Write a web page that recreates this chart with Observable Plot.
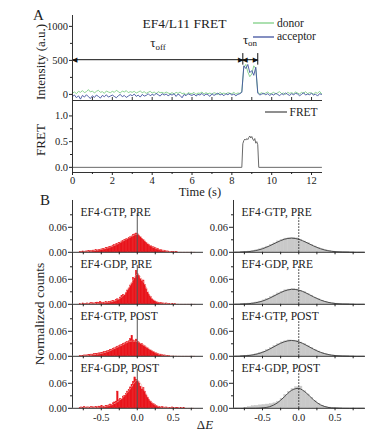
<!DOCTYPE html>
<html><head><meta charset="utf-8">
<script src="https://cdn.jsdelivr.net/npm/d3@7"></script>
<script src="https://cdn.jsdelivr.net/npm/@observablehq/plot@0.6"></script>
<style>
body{margin:0;background:#fff;}
#fig{position:relative;width:375px;height:435px;overflow:hidden;background:#fff;}
</style></head><body><div id="fig"></div>
<script>
// ---------------- DATA ----------------
// Panel A: time traces sampled every 0.1 s (0 .. 12.5 s)
const donor = [
 20,35,10,45,30,55,25,40,70,35,
 50,20,45,60,30,40,15,50,35,25,
 45,30,60,40,20,50,35,55,25,40,
 30,45,20,35,50,25,40,15,30,45,
 20,35,10,40,25,30,15,35,20,10,
 25,5,30,15,35,10,20,-5,25,15,
 10,30,0,20,15,35,5,25,10,20,
 0,25,15,-5,30,10,20,5,25,15,
 10,30,5,20,15,40,
 400,440,330,260,300,420,380,
 30,10,25,5,20,35,10,
 15,30,5,25,40,10,20,0,30,15,
 25,10,35,20,5,30,15,40,10,25,
 20,5,30,15,45,10];
const acceptor = [
 -30,-10,-50,-20,-70,-15,-40,-5,-35,-60,
 -20,-45,-10,-30,-55,-15,-35,-5,-40,-25,
 -10,-30,-50,-20,0,-35,-15,-45,-25,-5,
 -20,5,-30,-10,-40,0,-25,-15,10,-20,
 0,-15,15,-5,-25,10,-10,5,-20,0,
 -10,10,-30,5,-15,-50,0,-20,10,-5,
 -15,5,-25,0,-10,15,-20,5,-5,-30,
 10,-15,0,20,-10,5,-20,10,-5,15,
 -10,5,-20,0,10,30,
 420,380,440,320,350,280,400,
 20,-10,5,15,-5,10,-15,
 5,-10,15,0,-20,10,-5,20,0,-15,
 10,-5,15,5,-20,0,25,-10,5,-5,
 15,-10,5,-25,10,0];
const fretTime  = [0, 8.5, 8.55, 8.6, 8.65, 8.7, 8.75, 8.8, 8.85, 8.9, 8.95, 9.0, 9.05, 9.1, 9.15, 9.2, 9.25, 9.3, 9.35, 12.5];
const fretValue = [0, 0, 0.46, 0.52, 0.55, 0.53, 0.56, 0.54, 0.58, 0.61, 0.57, 0.60, 0.55, 0.52, 0.56, 0.47, 0.50, 0.44, 0, 0];
const tauOff = [0, 8.55];
const tauOn = [8.55, 9.3];
const tauLevel = 510;
const tauBar = [430, 600];
const intensityTicks = [0, 500, 1000];
const intensityMinor = [250, 750];
const fretTicks = [0, 0.5, 1.0];
const fretMinor = [0.25, 0.75];
const timeTicks = [0, 2, 4, 6, 8, 10, 12];
const timeMinor = [1, 3, 5, 7, 9, 11];

// Panel B: histogram titles
const leftTitles  = ["EF4\u00b7GTP, PRE", "EF4\u00b7GDP, PRE", "EF4\u00b7GTP, POST", "EF4\u00b7GDP, POST"];
const rightTitles = ["EF4\u00b7GTP, PRE", "EF4\u00b7GDP, PRE", "EF4\u00b7GTP, POST", "EF4\u00b7GDP, POST"];

// red histograms: bins of 0.02 starting at -0.8
const redStart = -0.8, redWidth = 0.02;
const redGtpPre = [
 0.001,0.001,0.002,0.001,0.002,0.002,0.003,0.002,0.003,0.004,
 0.004,0.005,0.004,0.006,0.006,0.007,0.008,0.008,0.010,0.010,
 0.012,0.013,0.014,0.016,0.017,0.019,0.020,0.022,0.023,0.026,
 0.027,0.029,0.031,0.032,0.034,0.036,0.038,0.041,0.043,0.045,
 0.043,0.040,0.036,0.032,0.029,0.026,0.022,0.019,0.017,0.015,
 0.013,0.012,0.010,0.009,0.008,0.006,0.005,0.004,0.004,0.003,
 0.002,0.002,0.001,0.001,0.001,0.001,0,0.001,0,0,
 0,0,0,0,0];
const redGdpPre = [
 0.001,0.000,0.002,0.001,0.001,0.002,0.001,0.002,0.003,0.002,
 0.002,0.003,0.004,0.003,0.005,0.004,0.003,0.004,0.005,0.004,
 0.006,0.005,0.007,0.008,0.007,0.010,0.012,0.011,0.016,0.020,
 0.022,0.021,0.027,0.033,0.038,0.045,0.050,0.063,0.061,0.080,
 0.072,0.068,0.060,0.055,0.057,0.046,0.036,0.028,0.022,0.017,
 0.012,0.009,0.007,0.005,0.004,0.003,0.003,0.002,0.002,0.001,
 0.002,0.001,0.001,0.000,0.001,0.000,0.001,0,0,0,
 0,0,0,0,0];
const redGtpPost = [
 0.001,0.001,0.001,0.002,0.002,0.002,0.003,0.003,0.004,0.004,
 0.005,0.005,0.006,0.007,0.007,0.008,0.009,0.010,0.011,0.012,
 0.013,0.015,0.016,0.018,0.019,0.021,0.023,0.024,0.026,0.027,
 0.029,0.031,0.033,0.034,0.036,0.041,0.049,0.038,0.036,0.040,
 0.034,0.033,0.030,0.029,0.026,0.024,0.021,0.019,0.016,0.014,
 0.012,0.010,0.008,0.007,0.005,0.004,0.004,0.003,0.002,0.002,
 0.001,0.001,0.001,0,0,0,0,0,0,0,
 0,0,0,0,0];
const redGdpPost = [
 0.001,0.002,0.001,0.003,0.001,0.002,0.002,0.001,0.003,0.002,
 0.002,0.003,0.002,0.004,0.003,0.005,0.003,0.004,0.006,0.005,
 0.007,0.009,0.008,0.012,0.014,0.016,0.040,0.019,0.022,0.021,
 0.028,0.030,0.034,0.040,0.044,0.050,0.056,0.063,0.074,0.068,
 0.064,0.060,0.052,0.045,0.049,0.040,0.031,0.025,0.020,0.016,
 0.012,0.010,0.008,0.006,0.004,0.003,0.002,0.003,0.002,0.001,
 0.002,0.001,0.001,0.001,0.002,0.001,0,0.001,0.001,0,
 0.001,0,0.001,0,0];
// faint fit curves on the red histograms
const redFitX = [-0.8,-0.7,-0.6,-0.5,-0.4,-0.3,-0.2,-0.1,0,0.1,0.2,0.3,0.4,0.5,0.6,0.7,0.8];
const redFitGtpPre  = [0.001,0.002,0.004,0.007,0.011,0.018,0.027,0.036,0.043,0.028,0.014,0.007,0.003,0.001,0,0,0];
const redFitGdpPre  = [0.001,0.002,0.002,0.003,0.005,0.009,0.020,0.045,0.072,0.050,0.015,0.004,0.002,0.001,0,0,0];
const redFitGtpPost = [0.001,0.002,0.004,0.007,0.012,0.020,0.028,0.036,0.035,0.025,0.014,0.005,0.002,0.001,0,0,0];
const redFitGdpPost = [0.001,0.002,0.002,0.003,0.006,0.013,0.026,0.046,0.068,0.042,0.014,0.004,0.002,0.001,0,0,0];

// gray histograms: bins of 0.05 starting at -0.8
const grayStart = -0.8, grayWidth = 0.05;
const grayGtpPre = [0.0007,0.0011,0.0019,0.0031,0.0048,0.0071,0.0100,0.0136,0.0178,0.0215,0.0262,0.0295,0.0328,0.0336,0.0345,0.0335,0.0302,0.0258,0.0222,0.0172,0.0138,0.0098,0.0072,0.0047,0.0032,0.0018,0.0011,0.0007,0.0004,0.0002,0.0001,0];
const grayGdpPre = [0.0005,0.0010,0.0017,0.0027,0.0044,0.0064,0.0094,0.0127,0.0171,0.0212,0.0261,0.0298,0.0336,0.0352,0.0366,0.0355,0.0325,0.0294,0.0248,0.0207,0.0158,0.0121,0.0086,0.0061,0.0038,0.0025,0.0015,0.0009,0.0005,0.0003,0.0001,0];
const grayGtpPost = [0.0008,0.0012,0.0021,0.0035,0.0054,0.0080,0.0111,0.0153,0.0196,0.0247,0.0289,0.0334,0.0360,0.0381,0.0376,0.0365,0.0330,0.0293,0.0243,0.0198,0.0150,0.0113,0.0078,0.0055,0.0034,0.0021,0.0012,0.0008,0.0004,0.0002,0.0001,0];
const grayGdpPost = [0,0.001,0.003,0.005,0.006,0.007,0.008,0.009,0.010,0.012,0.0158,0.0230,0.0320,0.0395,0.0460,0.0505,0.0520,0.0410,0.0332,0.0250,0.0168,0.0108,0.0060,0.0033,0.0016,0.0007,0.0003,0.0001,0,0,0,0];
// fitted curves on the gray histograms
const grayFitX = [-0.9,-0.8,-0.7,-0.6,-0.5,-0.4,-0.3,-0.2,-0.1,0,0.1,0.2,0.3,0.4,0.5,0.6,0.7,0.8,0.9];
const grayFitGtpPre  = [0.0001,0.0005,0.0015,0.0039,0.0085,0.0156,0.024,0.0312,0.034,0.0312,0.024,0.0156,0.0085,0.0039,0.0015,0.0005,0.0001,0,0];
const grayFitGdpPre  = [0.0001,0.0004,0.0013,0.0035,0.0078,0.0148,0.0237,0.0318,0.0359,0.0341,0.0272,0.0182,0.0103,0.0049,0.0019,0.0006,0.0002,0,0];
const grayFitGtpPost = [0.0001,0.0006,0.0017,0.0044,0.0095,0.0174,0.0269,0.0348,0.038,0.0348,0.0269,0.0174,0.0095,0.0044,0.0017,0.0006,0.0001,0,0];
const grayFitGdpPost = [0,0,0,0.0001,0.0009,0.0039,0.0124,0.0274,0.043,0.0477,0.0374,0.0208,0.0082,0.0023,0.0004,0.0001,0,0,0];

const histYTicks = [0, 0.06];
const histYMinor = [0.03, 0.09];
const histXTicks = [-0.75, -0.5, -0.25, 0, 0.25, 0.5, 0.75];
const histXLabels = [-0.5, 0, 0.5];
const zeroLineTop = 0.093;

// ---------------- STYLE / LAYOUT ----------------
const serif = "'Liberation Serif', 'Times New Roman', serif";
const ink = "#222", axisColor = "#333";
const donorColor = "#7fcf86", acceptorColor = "#42529f", fretColor = "#6a6a6a";
const red = "#e8141b", grayFill = "#c9c9c9", grayCurve = "#4a4a4a";
const timeDomain = [0, 12.55];
const intensityDomain = [-90, 1160];
const fretDomain = [-0.1, 1.3];
const histXDomain = [-0.9, 0.92];
const pitch = 51.8, pxPerUnit = 416.7, firstBaseline = 252;

const fig = document.getElementById("fig");
const baseStyle = {fontFamily: serif, fontSize: "10px", color: ink, background: "transparent", overflow: "visible"};
function place(node, left, top) {
  Object.assign(node.style, {position: "absolute", left: left + "px", top: top + "px", maxWidth: "none", background: "transparent", overflow: "visible"});
  fig.appendChild(node);
}

// ---------------- PANEL A : intensity ----------------
const traceRows = donor.map((d, i) => ({t: i / 10, donor: d, acceptor: acceptor[i]}));
const iTop = 15, iBottom = 100;
const intensityPlot = Plot.plot({
  width: 375, height: iBottom + 4, marginTop: iTop, marginBottom: 4, marginLeft: 72, marginRight: 53,
  style: baseStyle,
  x: {domain: timeDomain, axis: null}, y: {domain: intensityDomain, axis: null},
  marks: [
    Plot.line(traceRows, {x: "t", y: "donor", stroke: donorColor, strokeWidth: 0.9}),
    Plot.line(traceRows, {x: "t", y: "acceptor", stroke: acceptorColor, strokeWidth: 0.9}),
    Plot.link([tauOff, tauOn], {x1: d => d[0], x2: d => d[1], y1: () => tauLevel, y2: () => tauLevel, stroke: "#111", strokeWidth: 1}),
    Plot.ruleX(tauOn, {x: d => d, y1: () => tauBar[0], y2: () => tauBar[1], stroke: "#111", strokeWidth: 1}),
    Plot.text([tauOff[0], tauOn[0]], {x: d => d, y: () => tauLevel, text: () => "\u25C0", textAnchor: "start", fontSize: 7, fontFamily: "DejaVu Sans", fill: "#111", dx: -0.5}),
    Plot.text([tauOff[1], tauOn[1]], {x: d => d, y: () => tauLevel, text: () => "\u25B6", textAnchor: "end", fontSize: 7, fontFamily: "DejaVu Sans", fill: "#111", dx: 0.5}),
    Plot.ruleX([timeDomain[0]], {stroke: axisColor}),
    Plot.ruleY([intensityDomain[0]], {stroke: axisColor}),
    Plot.ruleX(timeTicks.concat(timeMinor), {insetTop: iBottom - iTop - 3, stroke: axisColor}),
    Plot.axisY({ticks: intensityTicks, tickSize: 3, tickPadding: 1.5, tickFormat: d3.format("d"), fontSize: 10.5, label: null}),
    Plot.axisY({ticks: intensityMinor, tickSize: 2, tickFormat: () => "", label: null})
  ]
});
place(intensityPlot, 0, 0);

// ---------------- PANEL A : FRET ----------------
const fretRows = fretTime.map((t, i) => ({t, v: fretValue[i]}));
const fSvgTop = 96, fTop = 100, fBottom = 172;
const fretPlot = Plot.plot({
  width: 375, height: fBottom - fSvgTop + 28, marginTop: fTop - fSvgTop, marginBottom: 28, marginLeft: 72, marginRight: 53,
  style: baseStyle,
  x: {domain: timeDomain}, y: {domain: fretDomain},
  marks: [
    Plot.line(fretRows, {x: "t", y: "v", stroke: fretColor, strokeWidth: 1}),
    Plot.ruleX([timeDomain[0]], {stroke: axisColor}),
    Plot.ruleY([fretDomain[0]], {stroke: axisColor}),
    Plot.axisY({ticks: fretTicks, tickSize: 3, tickPadding: 1.5, tickFormat: d3.format(".1f"), fontSize: 10.5, label: null}),
    Plot.axisY({ticks: fretMinor, tickSize: 2, tickFormat: () => "", label: null}),
    Plot.axisX({ticks: timeTicks, tickSize: 3, tickPadding: 1, tickFormat: d3.format("d"), fontSize: 10.5, label: null}),
    Plot.axisX({ticks: timeMinor, tickSize: 2, tickFormat: () => "", label: null})
  ]
});
place(fretPlot, 0, fSvgTop);

// ---------------- PANEL B : histograms ----------------
const redSets = [
  {counts: redGtpPre, fit: redFitGtpPre},
  {counts: redGdpPre, fit: redFitGdpPre},
  {counts: redGtpPost, fit: redFitGtpPost},
  {counts: redGdpPost, fit: redFitGdpPost}
];
const graySets = [
  {counts: grayGtpPre, fit: grayFitGtpPre},
  {counts: grayGdpPre, fit: grayFitGdpPre},
  {counts: grayGtpPost, fit: grayFitGtpPost},
  {counts: grayGdpPost, fit: grayFitGdpPost}
];

function histogram(col, row) {
  const isLeft = col === 0;
  const set = isLeft ? redSets[row] : graySets[row];
  const start = isLeft ? redStart : grayStart;
  const bw = isLeft ? redWidth : grayWidth;
  const fitX = isLeft ? redFitX : grayFitX;
  const bins = set.counts.map((v, i) => ({x1: start + i * bw, x2: start + (i + 1) * bw, v}));
  const fit = fitX.map((x, i) => ({x, y: set.fit[i]}));
  const mL = isLeft ? 72 : 33, plotW = isLeft ? 131 : 132, mR = 10;
  const baseline = firstBaseline + row * pitch;
  const mT = 2, mB = row === 3 ? 22 : 5;
  const last = row === 3;
  const fill = isLeft ? red : grayFill;
  const p = Plot.plot({
    width: mL + plotW + mR, height: mT + pitch + mB,
    marginLeft: mL, marginRight: mR, marginTop: mT, marginBottom: mB,
    style: baseStyle,
    x: {domain: histXDomain}, y: {domain: [0, pitch / pxPerUnit]},
    marks: [
      Plot.rectY(bins, {x1: "x1", x2: "x2", y: "v", fill, stroke: fill, strokeWidth: 0.5, inset: 0}),
      Plot.line(fit, isLeft
        ? {x: "x", y: "y", curve: "catmull-rom", stroke: "#f2a6a0", strokeWidth: 0.8, strokeDasharray: "2,1.5"}
        : {x: "x", y: "y", curve: "catmull-rom", stroke: grayCurve, strokeWidth: 1}),
      Plot.ruleX([0], {y1: () => 0, y2: () => zeroLineTop, stroke: isLeft ? "#555" : "#222", strokeWidth: 1, strokeDasharray: isLeft ? null : "1.5,1.5"}),
      Plot.ruleX([histXDomain[0]], {stroke: axisColor}),
      Plot.ruleY([0], {stroke: axisColor}),
      Plot.axisY({ticks: histYTicks, tickSize: 4, tickPadding: 1.5, tickFormat: d3.format(".2f"), fontSize: 10.5, label: null}),
      Plot.axisY({ticks: histYMinor, tickSize: 2, tickFormat: () => "", label: null}),
      Plot.axisX({ticks: histXTicks, tickSize: 2.5, tickPadding: 3,
        tickFormat: d => (last && histXLabels.includes(d)) ? d.toFixed(1) : "", fontSize: 10.5, label: null}),
      Plot.text([isLeft ? leftTitles[row] : rightTitles[row]], {frameAnchor: "top-left", dx: 8, dy: 7, lineAnchor: "top", textAnchor: "start", fontSize: 11.5, fill: ink})
    ]
  });
  place(p, isLeft ? 0 : 200, baseline - pitch - mT);
}
for (let r = 0; r < 4; r++) { histogram(0, r); histogram(1, r); }

// ---------------- LABELS OVERLAY ----------------
const ov = d3.create("svg").attr("width", 375).attr("height", 435)
  .attr("font-family", serif).attr("fill", ink)
  .style("position", "absolute").style("left", "0px").style("top", "0px");
function txt(x, y, s, size, anchor = "start", rotate = 0) {
  const t = ov.append("text").attr("x", x).attr("y", y).attr("font-size", size).attr("text-anchor", anchor).text(s);
  if (rotate) t.attr("transform", `rotate(${rotate},${x},${y})`);
  return t;
}
txt(33, 20, "A", 15);
txt(40, 205, "B", 15);
txt(184.5, 28, "EF4/L11 FRET", 13.5, "middle");
// legend
ov.append("line").attr("x1", 253).attr("x2", 274).attr("y1", 23).attr("y2", 23).attr("stroke", donorColor).attr("stroke-width", 1.3);
txt(277, 26.8, "donor", 11.5);
ov.append("line").attr("x1", 253).attr("x2", 274).attr("y1", 37).attr("y2", 37).attr("stroke", acceptorColor).attr("stroke-width", 1.3);
txt(277, 39.5, "acceptor", 11.5);
ov.append("line").attr("x1", 265).attr("x2", 287).attr("y1", 112).attr("y2", 112).attr("stroke", "#444").attr("stroke-width", 1.2);
txt(289.5, 116, "FRET", 11.5);
// tau labels
const toff = txt(158, 47, "\u03C4", 13, "middle");
toff.append("tspan").attr("font-size", 9).attr("dy", 2.5).text("off");
const ton = txt(250, 43.5, "\u03C4", 13, "middle");
ton.append("tspan").attr("font-size", 9).attr("dy", 2.5).text("on");
// axis titles
txt(45, 62, "Intensity (a.u.)", 13, "middle", -90);
txt(45, 140, "FRET", 13, "middle", -90);
txt(44, 314, "Normalized counts", 13.5, "middle", -90);
txt(200, 196, "Time (s)", 12.5, "middle");
const de = txt(205, 429, "\u0394", 13, "middle");
de.append("tspan").attr("font-style", "italic").text("E");
fig.appendChild(ov.node());
</script></body></html>
